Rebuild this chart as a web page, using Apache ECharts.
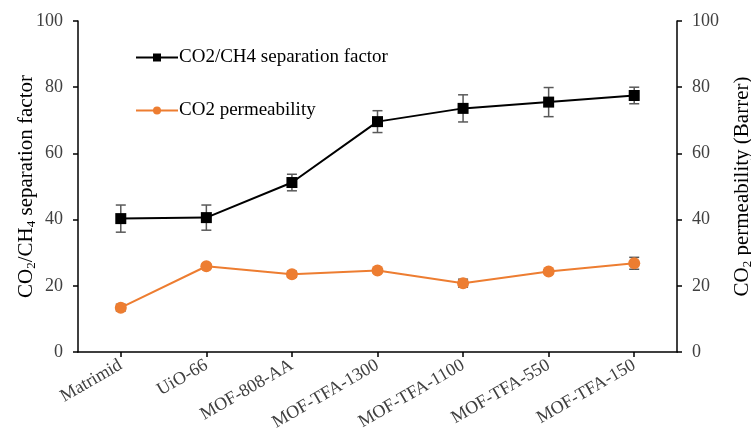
<!DOCTYPE html>
<html>
<head>
<meta charset="utf-8">
<script src="https://cdn.jsdelivr.net/npm/echarts@6/dist/echarts.min.js"></script>
<style>html,body{margin:0;padding:0;background:#fff;overflow:hidden;}#chart{width:751px;height:440px;}</style>
</head>
<body>
<div id="chart"></div>
<script>
var categories = ['Matrimid', 'UiO-66', 'MOF-808-AA', 'MOF-TFA-1300', 'MOF-TFA-1100', 'MOF-TFA-550', 'MOF-TFA-150'];
var sepFactor = [40.3, 40.6, 51.2, 69.6, 73.6, 75.5, 77.5];
var sepError = [4.1, 3.8, 2.5, 3.3, 4.1, 4.4, 2.5];
var permeability = [13.4, 25.9, 23.5, 24.6, 20.8, 24.3, 26.8];
var permError = [1.0, 0.6, 0.9, 0.6, 1.2, 0.6, 1.8];
var yTicks = [0, 20, 40, 60, 80, 100];

var FONT = '"Liberation Serif", "Times New Roman", serif';

function errSeries(vals, errs, yIndex, name) {
  var data = vals.map(function (v, i) { return [i, v - errs[i], v + errs[i]]; });
  return {
    type: 'custom',
    name: name,
    yAxisIndex: yIndex,
    z: 1,
    silent: true,
    renderItem: function (params, api) {
      var x = api.value(0);
      var lo = api.coord([x, api.value(1)]);
      var hi = api.coord([x, api.value(2)]);
      var w = 5;
      var st = { stroke: '#595959', lineWidth: 1.5 };
      return {
        type: 'group',
        children: [
          { type: 'line', shape: { x1: lo[0], y1: lo[1], x2: hi[0], y2: hi[1] }, style: st },
          { type: 'line', shape: { x1: lo[0] - w, y1: lo[1], x2: lo[0] + w, y2: lo[1] }, style: st },
          { type: 'line', shape: { x1: hi[0] - w, y1: hi[1], x2: hi[0] + w, y2: hi[1] }, style: st }
        ]
      };
    },
    encode: { x: 0, y: [1, 2] },
    data: data
  };
}

var chart = echarts.init(document.getElementById('chart'), null, { renderer: 'canvas' });
var yAxisCommon = {
  type: 'value', min: 0, max: 100, interval: 20,
  axisLine: { show: true, lineStyle: { color: '#000', width: 1.5 } },
  axisTick: { show: true, length: 5, lineStyle: { color: '#000', width: 1.5 } },
  axisLabel: { color: '#404040', fontFamily: FONT, fontSize: 18, margin: 15 },
  splitLine: { show: false },
  nameLocation: 'middle',
  nameMoveOverlap: false,
  nameTextStyle: {
    color: '#000', fontFamily: FONT, fontSize: 21,
    rich: { sub: { fontSize: 13, fontFamily: FONT, color: '#000', padding: [11, 0, 0, 0] } }
  }
};
chart.setOption({
  animation: false,
  backgroundColor: '#fff',
  textStyle: { fontFamily: FONT },
  grid: { left: 78, right: 74, top: 21, bottom: 88, containLabel: false, outerBoundsMode: 'none' },
  legend: {
    orient: 'vertical', left: 130, top: 43, itemGap: 34,
    itemWidth: 42, itemHeight: 10,
    textStyle: { color: '#000', fontFamily: FONT, fontSize: 19, padding: [0, 0, 0, -4] },
    data: ['CO2/CH4 separation factor', 'CO2 permeability']
  },
  xAxis: {
    type: 'category', data: categories, boundaryGap: true,
    axisLine: { lineStyle: { color: '#000', width: 1.5 } },
    axisTick: { show: true, alignWithLabel: true, length: 5, lineStyle: { color: '#000', width: 1.5 } },
    axisLabel: { color: '#404040', fontFamily: FONT, fontSize: 18, rotate: 30, margin: 12, interval: 0 }
  },
  yAxis: [
    Object.assign({}, yAxisCommon, {
      position: 'left',
      name: 'CO{sub|2}/CH{sub|4} separation factor',
      nameGap: 40
    }),
    Object.assign({}, yAxisCommon, {
      position: 'right',
      name: 'CO{sub|2} permeability (Barrer)',
      nameGap: 53
    })
  ],
  series: [
    errSeries(sepFactor, sepError, 0, 'sepErr'),
    errSeries(permeability, permError, 1, 'permErr'),
    {
      name: 'CO2/CH4 separation factor', type: 'line', yAxisIndex: 0, z: 3,
      data: sepFactor, symbol: 'rect', symbolSize: 11,
      lineStyle: { color: '#000', width: 2 },
      itemStyle: { color: '#000' }
    },
    {
      name: 'CO2 permeability', type: 'line', yAxisIndex: 1, z: 3,
      data: permeability, symbol: 'circle', symbolSize: 12,
      lineStyle: { color: '#ED7D31', width: 2 },
      itemStyle: { color: '#ED7D31' }
    }
  ]
});
</script>
</body>
</html>
